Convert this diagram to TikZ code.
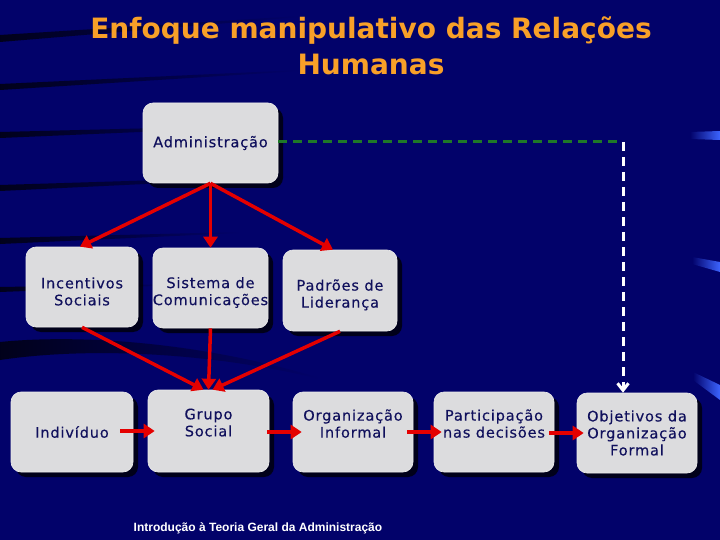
\documentclass[tikz,border=0pt]{standalone}
\usepackage{fontspec}
\usepackage{graphicx}
\setmainfont{DejaVu Sans}
\newfontfamily\boxfont[LetterSpace=6,FakeBold=0.3]{DejaVu Sans}
\newfontfamily\footfont{Liberation Sans}
\usetikzlibrary{arrows.meta,shadows}
\definecolor{bg}{RGB}{2,2,106}
\definecolor{titleor}{RGB}{248,160,40}
\definecolor{boxfill}{RGB}{220,220,222}
\definecolor{boxtext}{RGB}{16,16,92}
\definecolor{arrred}{RGB}{228,0,0}
\definecolor{dgreen}{RGB}{30,120,40}
\definecolor{streakblue}{RGB}{60,100,255}
\begin{document}
\begin{tikzpicture}[x=1pt,y=-1pt,
  box/.style={draw=white!85!gray, line width=0.6pt, fill=boxfill, rounded corners=10pt,
    inner sep=0pt, align=center, font=\boxfont\fontsize{14.5}{17}\selectfont, text=boxtext,
    drop shadow={shadow xshift=5pt, shadow yshift=-5pt, opacity=0.75, fill=black}},
  redarr/.style={draw=arrred, line width=3.5pt, -{Triangle[width=14pt,length=11pt]}},
  streak/.style={left color=black!75!bg, right color=bg},
  bluestreak/.style={left color=bg, right color=streakblue},
]
% background
\fill[bg] (0,0) rectangle (720,540);
\useasboundingbox (0,0) rectangle (720,540);
% dark streaks on the left
\shade[streak] (0,35) -- (300,16) -- (300,17) -- (0,42) -- cycle;
\shade[streak] (0,84) -- (300,70) -- (300,71) -- (0,90) -- cycle;
\shade[streak] (0,132) -- (280,125) -- (280,126) -- (0,138) -- cycle;
\shade[streak] (0,185) -- (290,176) -- (290,177) -- (0,191) -- cycle;
\shade[streak] (0,238) -- (240,232) -- (240,233) -- (0,244) -- cycle;
\shade[streak] (0,287) -- (180,284) -- (180,285) -- (0,292) -- cycle;
\shade[streak] (0,342) .. controls (80,334) and (200,342) .. (320,378) -- (320,379)
   .. controls (200,350) and (80,348) .. (0,360) -- cycle;
% blue streaks on the right
\shade[bluestreak] (690,132) -- (720,131) -- (720,140) -- (690,139) -- cycle;
\shade[bluestreak] (692,257) -- (720,262) -- (720,272) -- (692,264) -- cycle;
\shade[bluestreak] (693,372) -- (720,385) -- (720,400) -- (693,380) -- cycle;
% title
\node[font=\bfseries\fontsize{28}{33}\selectfont, text=titleor] (t1) at (371,31) {Enfoque manipulativo das Relações};
\node[font=\bfseries\fontsize{28}{33}\selectfont, text=titleor] (t2) at (371,64) {Humanas};
% boxes
\node[box, minimum width=135pt, minimum height=80pt] (admin) at (210.5,143) {Administração};
\node[box, minimum width=112pt, minimum height=80pt] (incent) at (82,287) {\strut\\[-9pt]Incentivos\\Sociais};
\node[box, minimum width=113pt, minimum height=80pt] (sist) at (210.5,288) {\strut\\[-9pt]Sistema de\\Comunicações};
\node[box, minimum width=114pt, minimum height=81pt] (padr) at (340,290.5) {\strut\\[-9pt]Padrões de\\Liderança};
\node[box, minimum width=122pt, minimum height=80pt] (indiv) at (72,432) {Indivíduo};
\node[box, minimum width=121pt, minimum height=82pt] (grupo) at (208.5,431) {Grupo\\Social\\[-5pt]\strut};
\node[box, minimum width=120pt, minimum height=80pt] (orgi) at (353,432) {Organização\\Informal\\[-5pt]\strut};
\node[box, minimum width=120pt, minimum height=80pt] (part) at (494,432) {Participação\\nas decisões\\[-5pt]\strut};
\node[box, minimum width=120pt, minimum height=80pt] (obj) at (637,433) {Objetivos da\\Organização\\Formal};
% footer
\node[font=\footfont\bfseries\fontsize{12}{14}\selectfont, text=white] (foot) at (258,528)
  {Introdução à Teoria Geral da Administração};
% connectors
\draw[redarr] (admin.south) -- ([xshift=-2pt]incent.north);
\draw[redarr] (admin.south) -- (sist.north);
\draw[redarr] (admin.south) -- ([xshift=-7pt]padr.north);
\draw[redarr] (incent.south) -- ([xshift=-5pt]grupo.north);
\draw[redarr] (sist.south) -- (grupo.north);
\draw[redarr] (padr.south) -- ([xshift=4pt]grupo.north);
\draw[redarr, shorten <=-13pt, shorten >=-7pt] (indiv.east |- grupo.west) -- (grupo.west);
\draw[redarr, shorten <=-2pt, shorten >=-9pt] (grupo.east |- orgi.west) -- (orgi.west);
\draw[redarr, shorten <=-6pt, shorten >=-8pt] (orgi.east) -- (part.west);
\draw[redarr, shorten <=-5pt, shorten >=-7pt] (part.east |- obj.west) -- (obj.west);
\coordinate (corner) at (623,142);
\draw[dgreen, line width=3pt, dash pattern=on 9pt off 6pt] (admin.east |- corner) -- (corner);
\draw[white, line width=3pt, dash pattern=on 9pt off 6pt, -{Straight Barb[width=11pt,length=7pt]}]
  (corner) -- (corner |- obj.north);
\end{tikzpicture}
\end{document}
